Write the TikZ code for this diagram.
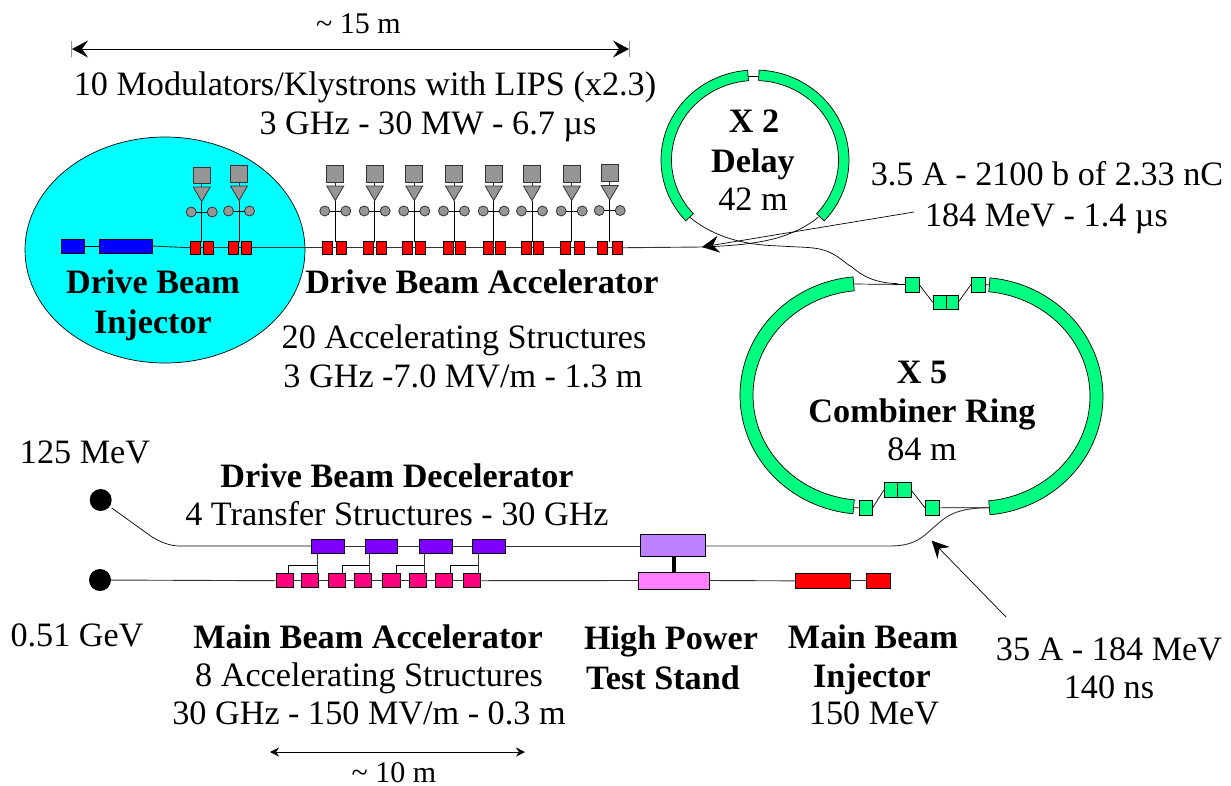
\documentclass[tikz,border=0pt]{standalone}
\usepackage{fontspec}
\setmainfont{Liberation Serif}
\usetikzlibrary{arrows.meta,shapes.geometric}
\definecolor{ringgreen}{HTML}{00FF80}
\definecolor{injcyan}{HTML}{00FFFF}
\definecolor{kgray}{HTML}{969696}
\definecolor{dkgray}{HTML}{333333}
\definecolor{dpurple}{HTML}{8000FF}
\definecolor{lpurple}{HTML}{BF80FF}
\definecolor{lpink}{HTML}{FF80FF}
\definecolor{hotpink}{HTML}{FF0080}
\tikzset{
  x=1pt,y=-1pt,
  beam/.style={draw=black,line width=0.9pt},
  thin beam/.style={draw=black,line width=0.7pt},
  box/.style={draw=black,line width=0.8pt,inner sep=0pt,outer sep=0pt,rectangle},
  redbox/.style={box,fill=red},
  bluebox/.style={box,fill=blue},
  greenbox/.style={box,fill=ringgreen},
  purplebox/.style={box,fill=dpurple},
  lpurplebox/.style={box,fill=lpurple},
  lpinkbox/.style={box,fill=lpink},
  pinkbox/.style={box,fill=hotpink},
  graybox/.style={box,fill=kgray,draw=dkgray},
  gring/.style={draw=black,line width=0.7pt,fill=ringgreen},
  gcirc/.style={circle,draw=dkgray,line width=0.8pt,fill=kgray,inner sep=0pt,outer sep=0pt,minimum size=10pt},
  bdot/.style={circle,fill=black,inner sep=0pt,outer sep=0pt,minimum size=22pt},
  txt/.style={anchor=base,inner sep=0pt,font=\fontsize{34.2}{40}\selectfont},
  stxt/.style={anchor=base,inner sep=0pt,font=\fontsize{30}{36}\selectfont},
  btxt/.style={txt,font=\fontsize{34.2}{40}\selectfont\bfseries},
  tipa/.style={-{Stealth[length=17pt,width=17pt,inset=6pt]}},
  dim15/.style={{Stealth[length=16pt,width=17pt,inset=6pt]}-{Stealth[length=16pt,width=17pt,inset=6pt]},line width=0.8pt},
  dim10/.style={{Stealth[length=9pt,width=9pt,inset=3pt]}-{Stealth[length=9pt,width=9pt,inset=3pt]},line width=0.8pt},
}
\newcommand\bx[6]{%
  \pgfmathsetmacro\bcx{(#3+#5)/2}\pgfmathsetmacro\bcy{(#4+#6)/2}%
  \pgfmathsetmacro\bw{#5-#3}\pgfmathsetmacro\bh{#6-#4}%
  \node[#1,minimum width=\bw pt,minimum height=\bh pt] (#2) at (\bcx,\bcy) {};}
\newcommand\ringseg[8]{%
  \draw[gring] plot[domain=#7:#8,samples=70] ({#1+#3*cos(\x)},{#2+#4*sin(\x)})
    -- plot[domain=#8:#7,samples=70] ({#1+#5*cos(\x)},{#2+#6*sin(\x)}) -- cycle;}
\begin{document}
\begin{tikzpicture}
\useasboundingbox (0,0) rectangle (1231,785);
\fill[white] (0,0) rectangle (1231,785);

% injector ellipse
\node[ellipse,draw=black,line width=0.7pt,fill=injcyan,minimum width=280pt,minimum height=226pt,inner sep=0pt,outer sep=0pt] (inj) at (165,250) {};

% injector sources
\bx{bluebox}{b1}{61}{239}{84}{253}
\bx{bluebox}{b2}{99}{239}{152}{253}
\draw[beam] (b1.east) -- (b2.west);

% klystron rows
\foreach \i/\px/\l/\r/\d in {1/201.7/195/208/2,2/239/233/246/0,3/335.3/327/341/0,4/374.7/368.7/381.7/0,5/414.3/407.7/420.7/0,6/454/448/460.7/0,7/493.7/488/500.7/0,8/532/526/538/0,9/571.7/565.7/579.3/0,10/609.7/602.7/617/-1}{
  \pgfmathsetmacro\ya{165+\d}\pgfmathsetmacro\yb{182+\d*0.5}
  \pgfmathsetmacro\ta{186+\d*0.5}\pgfmathsetmacro\tb{200.5+\d*0.5}
  \pgfmathsetmacro\yc{211+\d*0.5}
  \pgfmathsetmacro\xa{\px-8.5}\pgfmathsetmacro\xb{\px+8.5}
  \pgfmathsetmacro\ca{\px-10.5}\pgfmathsetmacro\cb{\px+10.5}
  \pgfmathsetmacro\lla{\l-5}\pgfmathsetmacro\llb{\l+5}
  \pgfmathsetmacro\rra{\r-5}\pgfmathsetmacro\rrb{\r+5}
  \coordinate (tt\i) at (\px,\ta);
  \coordinate (ta\i) at (\px,\tb);
  \coordinate (st\i) at (\px,241.5);
  \bx{redbox}{rl\i}{\lla}{241.5}{\llb}{254}
  \bx{redbox}{rr\i}{\rra}{241.5}{\rrb}{254}
  \node[gcirc] (cl\i) at (\ca,\yc) {};
  \node[gcirc] (cr\i) at (\cb,\yc) {};
  \bx{graybox}{k\i}{\xa}{\ya}{\xb}{\yb}
  \draw[thin beam,draw=dkgray] (k\i.south) -- (tt\i);
  \draw[thin beam] (ta\i) -- (st\i);
  \draw[thin beam] (cl\i) -- (cr\i);
  \draw[graybox] (\xa,\ta) -- (\xb,\ta) -- (ta\i) -- cycle;
  \draw[beam,draw=dkgray] (rl\i.east) -- (rr\i.west);
}
\draw[beam,draw=dkgray] (b2.east) -- (rl1.west);
\foreach \a/\b in {1/2,2/3,3/4,4/5,5/6,6/7,7/8,8/9,9/10}{
  \draw[beam,draw=dkgray] (rr\a.east) -- (rl\b.west);
}
\coordinate (tip) at (702,247);
\draw[beam,draw=dkgray] (rr10.east) -- (tip);

% delay ring
\ringseg{755}{160}{94}{90}{83.5}{79.5}{137.5}{265.5}
\ringseg{755}{160}{94}{90}{83.5}{79.5}{272.5}{402.5}
\coordinate (dga) at (748,76);
\coordinate (dgb) at (759,76);
\coordinate (dl) at (689.5,217);
\coordinate (dr) at (818.5,217);
\draw[thin beam] (dga) -- (dgb);

% combiner ring
\ringseg{865}{395.3}{125}{119}{112}{105}{95.5}{264.5}
\ringseg{978}{396.3}{125}{119}{112}{105}{-84.5}{84.5}

% combiner chicanes
\bx{greenbox}{ta}{905}{277}{919}{292}
\bx{greenbox}{tb1}{933}{295.7}{946}{309.3}
\bx{greenbox}{tb2}{946}{295.7}{958}{309.3}
\bx{greenbox}{tc}{971}{277}{985}{292}
\bx{greenbox}{ba}{859}{500.7}{872.7}{515}
\bx{greenbox}{bb1}{884}{482.7}{897.7}{497}
\bx{greenbox}{bb2}{897.7}{482.7}{911}{497}
\bx{greenbox}{bc}{925}{500.7}{939}{515}
\coordinate (crtl) at (853,284);
\coordinate (crtr) at (990,285);
\coordinate (crbl) at (853,507.7);
\coordinate (crbr) at (990,507.7);
\draw[thin beam] (crtl) -- (ta.west);
\draw[thin beam] (ta.east) -- (tb1.west);
\draw[thin beam] (tb2.east) -- (tc.west);
\draw[thin beam] (tc.east) -- (crtr);
\draw[thin beam] (crbl) -- (ba.west);
\draw[thin beam] (ba.east) -- (bb1.west);
\draw[thin beam] (bb2.east) -- (bc.west);
\draw[thin beam] (bc.east) -- (crbr);

% transfer lines
\draw[thin beam] (dl) .. controls (715,238) and (745,245) .. (780,246)
   .. controls (795,247) and (805,247) .. (813,248)
   .. controls (835,250) and (845,264) .. (852,267)
   .. controls (862,276) and (875,283) .. (898,283.7);
\draw[thin beam] (dr) .. controls (790,240) and (755,245) .. (tip);

% decelerator line
\node[bdot] (d1) at (100.7,500) {};
\node[bdot] (d2) at (100,580) {};
\bx{purplebox}{p1}{311}{539}{344}{553}
\bx{purplebox}{p2}{365}{539}{397}{553}
\bx{purplebox}{p3}{419}{539}{452}{553}
\bx{purplebox}{p4}{472.7}{539}{505.7}{553}
\bx{lpurplebox}{hp}{640}{534.7}{705.7}{556.7}
\bx{lpinkbox}{ts}{638}{572}{709}{589}
\bx{redbox}{mi1}{795}{573.7}{850.7}{588}
\bx{redbox}{mi2}{866.7}{573.7}{890.7}{588}
\coordinate (dt) at (111.7,508);
\draw[thin beam] (dt) -- (151.7,536.7) .. controls (160,542) and (170,546) .. (180,546) -- (p1.west);
\draw[beam,draw=dkgray] (p1.east) -- (p2.west);
\draw[beam,draw=dkgray] (p2.east) -- (p3.west);
\draw[beam,draw=dkgray] (p3.east) -- (p4.west);
\draw[beam,draw=dkgray] (p4.east) -- (hp.west |- p4.east);
\draw[beam,draw=dkgray] (hp.east |- p4.east) -- (890,546)
   .. controls (905,546) and (915,543) .. (925,535)
   .. controls (945,518) and (950,508) .. (crbr);
\coordinate (tsa) at (674,556.7);
\coordinate (tsb) at (674,572);
\draw[line width=4pt] (tsa) -- (tsb);

% main beam accelerator
\foreach \i/\a/\b in {1/276.7/293.7,2/301.7/318.7,3/328/345,4/354.7/371.7,5/382.7/400,6/409/426,7/435/452.7,8/463/480}{
  \bx{pinkbox}{m\i}{\a}{573.7}{\b}{587.7}
}
\draw[beam,draw=dkgray] (d2) -- (m1.west);
\foreach \a/\b in {1/2,2/3,3/4,4/5,5/6,6/7,7/8}{
  \draw[beam,draw=dkgray] (m\a.east) -- (m\b.west);
}
\draw[beam,draw=dkgray] (m8.east) -- (ts.west);
\draw[beam,draw=dkgray] (ts.east) -- (mi1.west);
\draw[beam,draw=dkgray] (mi1.east) -- (mi2.west);

% waveguide splitters
\foreach \vx/\hx in {317/288.3,369.7/342.7,424/396.7,478/450}{
  \draw[thin beam,draw=dkgray] (\vx,553) -- (\vx,573.7);
  \draw[thin beam] (\vx,565.3) -- (\hx,565.3) -- (\hx,573.7);
}

% dimension arrows
\coordinate (d15a) at (72,49);
\coordinate (d15b) at (629,49);
\coordinate (d10a) at (270,752);
\coordinate (d10b) at (525,752);
\draw[dim15] (d15a) -- (d15b);
\draw[line width=0.7pt,draw=kgray] (71.5,41) -- (71.5,57);
\draw[line width=0.7pt,draw=kgray] (629.5,41) -- (629.5,57);
\draw[dim10] (d10a) -- (d10b);

% pointers
\coordinate (ptr1) at (914,212);
\draw[tipa,line width=0.7pt] (ptr1) -- (tip);
\coordinate (ptr2) at (1006,617);
\coordinate (ptr2t) at (931.7,540.7);
\draw[tipa,line width=0.7pt] (ptr2) -- (ptr2t);

% texts
\node[stxt] (t1) at (358.5,33.5) {\textasciitilde{} 15 m};
\node[txt] (t2) at (365,95) {10 Modulators/Klystrons with LIPS (x2.3)};
\node[txt] (t3) at (428,134.5) {3 GHz - 30 MW - 6.7 µs};
\node[btxt] (t4) at (754,132) {X 2};
\node[btxt] (t5) at (753,172) {Delay};
\node[txt] (t6) at (753,210) {42 m};
\node[txt] (t7) at (1047,185) {3.5 A - 2100 b of 2.33 nC};
\node[txt] (t8) at (1046.5,226.5) {184 MeV - 1.4 µs};
\node[btxt] (t9) at (153,293.5) {Drive Beam};
\node[btxt] (t10) at (153,333) {Injector};
\node[btxt] (t11) at (482,293.5) {Drive Beam Accelerator};
\node[txt] (t12) at (464,348) {20 Accelerating Structures};
\node[txt] (t13) at (463,387) {3 GHz -7.0 MV/m - 1.3 m};
\node[btxt] (t14) at (922,383) {X 5};
\node[btxt] (t15) at (922,422) {Combiner Ring};
\node[txt] (t16) at (922,460) {84 m};
\node[txt] (t17) at (85,463) {125 MeV};
\node[btxt] (t18) at (397,487) {Drive Beam Decelerator};
\node[txt] (t19) at (397,525) {4 Transfer Structures - 30 GHz};
\node[txt] (t20) at (77,646) {0.51 GeV};
\node[btxt] (t21) at (368,648) {Main Beam Accelerator};
\node[txt] (t22) at (369,686) {8 Accelerating Structures};
\node[txt] (t23) at (369,724) {30 GHz - 150 MV/m - 0.3 m};
\node[btxt] (t24) at (671,649) {High Power};
\node[btxt] (t25) at (663,689) {Test Stand};
\node[btxt] (t26) at (873,648) {Main Beam};
\node[btxt] (t27) at (872,687) {Injector};
\node[txt] (t28) at (874,724) {150 MeV};
\node[txt] (t29) at (1109,660) {35 A - 184 MeV};
\node[txt] (t30) at (1109,698) {140 ns};
\node[stxt] (t31) at (394,782.5) {\textasciitilde{} 10 m};
\end{tikzpicture}
\end{document}
